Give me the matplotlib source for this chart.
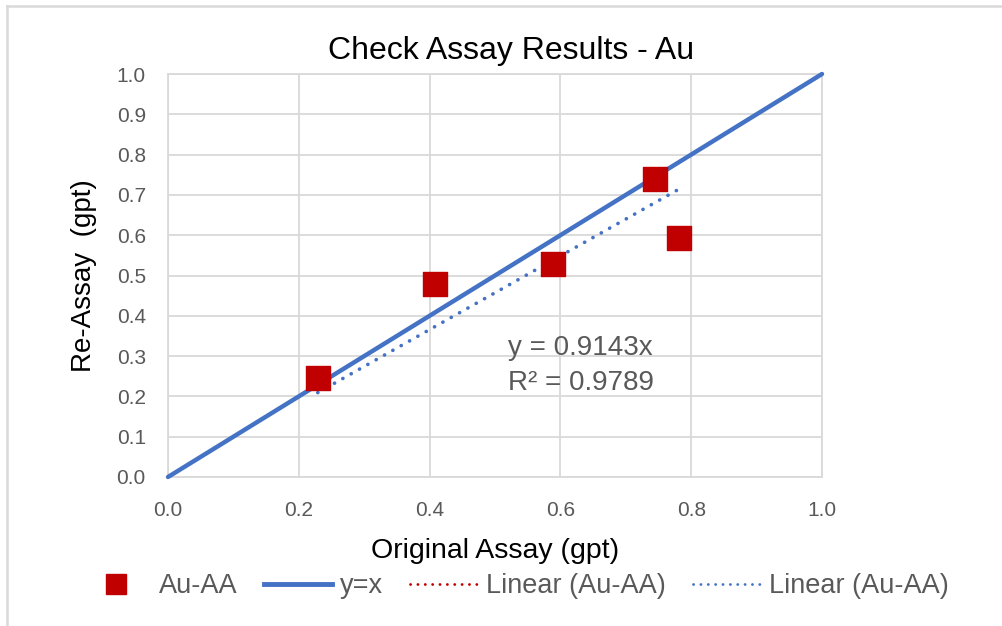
import matplotlib.pyplot as plt
import numpy as np
from matplotlib.lines import Line2D

plt.rcParams['font.family'] = ['Liberation Sans', 'DejaVu Sans']

# check assay pairs (gpt)
original = [0.229, 0.408, 0.589, 0.745, 0.782]
reassay = [0.246, 0.479, 0.528, 0.739, 0.593]
slope = 0.9143
r2 = 0.9789

ticks = [0.0, 0.2, 0.4, 0.6, 0.8, 1.0]
yticks = [0.0, 0.1, 0.2, 0.3, 0.4, 0.5, 0.6, 0.7, 0.8, 0.9, 1.0]

blue = '#4472C4'
red = '#C00000'
grey = '#595959'
grid = '#D9D9D9'

fig = plt.figure(figsize=(10.03, 6.26), dpi=100)
W, H = 1003, 626
ax = fig.add_axes([168 / W, 1 - 477 / H, (822 - 168) / W, (477 - 74) / H])

# chart frame
fig.add_artist(Line2D([7.5 / W, 7.5 / W], [0, 1 - 5.5 / H], color=grid, lw=1.8))
fig.add_artist(Line2D([7.5 / W, 1], [1 - 5.5 / H, 1 - 5.5 / H], color=grid, lw=1.8))

ax.set_xlim(0, 1)
ax.set_ylim(0, 1)
ax.set_xticks(ticks)
ax.set_yticks(yticks)
ax.set_xticklabels([f'{t:.1f}' for t in ticks])
ax.set_yticklabels([f'{t:.1f}' for t in yticks])
ax.grid(True, color=grid, lw=1.3)
ax.set_axisbelow(True)
for s in ax.spines.values():
    s.set_color(grid)
    s.set_linewidth(1.3)
ax.tick_params(length=0, colors=grey, labelsize=15, pad=16)
ax.tick_params(axis='x', pad=17)

# both trendlines share the same fit; the thinner red one hides under the blue dots
# (dash lengths scale with linewidth, so the red pattern is rescaled to line up)
dots = (0, (0.05, 2.6))
dots_red = (0, (0.081, 4.225))
x_fit = np.array([min(original), max(original)])
ax.plot(x_fit, slope * x_fit, color=red, lw=1.6, ls=dots_red, dash_capstyle='round', zorder=2)
ax.plot(x_fit, slope * x_fit, color=blue, lw=2.6, ls=dots, dash_capstyle='round', zorder=3)
ax.plot([0, 1], [0, 1], color=blue, lw=3.2, solid_capstyle='round', zorder=4, clip_on=False)
ax.scatter(original, reassay, marker='s', s=290, color=red, zorder=5)

ax.text(0.52, 0.215, f'y = {slope:.4f}x\nR² = {r2:.4f}', color=grey, fontsize=20,
        linespacing=1.45)

fig.text(511 / W, 1 - 51 / H, 'Check Assay Results - Au', fontsize=23, ha='center', va='center')
ax.set_xlabel('Original Assay (gpt)', fontsize=20.5, labelpad=13)
ax.set_ylabel('Re-Assay  (gpt)', fontsize=20, labelpad=14)

handles = [
    Line2D([], [], ls='none', marker='s', ms=15, color=red),
    Line2D([], [], color=blue, lw=3.5),
    Line2D([], [], color=red, lw=2, ls=dots, dash_capstyle='round'),
    Line2D([], [], color=blue, lw=2, ls=dots, dash_capstyle='round'),
]
labels = ['Au-AA', 'y=x', 'Linear (Au-AA)', 'Linear (Au-AA)']
leg = fig.legend(handles, labels, loc='center', bbox_to_anchor=(0.514, 1 - 586 / H),
                 ncol=4, frameon=False, fontsize=19.5, handlelength=2.5,
                 handletextpad=0.3, columnspacing=1.0)
for t in leg.get_texts():
    t.set_color(grey)

fig.savefig('out.png', dpi=100)
